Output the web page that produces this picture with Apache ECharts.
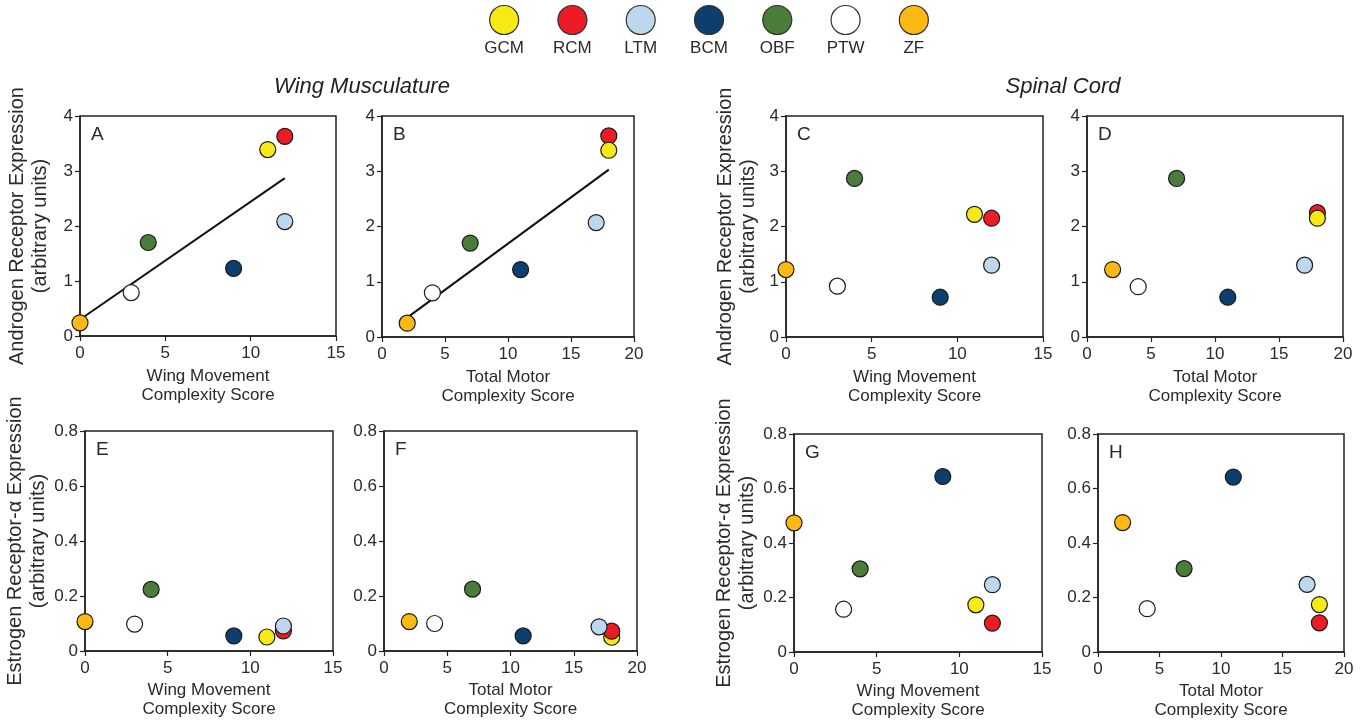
<!DOCTYPE html>
<html>
<head>
<meta charset="utf-8">
<title>Receptor expression vs motor complexity</title>
<script src="https://cdn.jsdelivr.net/npm/echarts@6/dist/echarts.min.js"></script>
<style>
html, body { margin: 0; padding: 0; background: #fff; }
#main { width: 1368px; height: 721px; }
</style>
</head>
<body>
<div id="main"></div>
<script>
var species = ['GCM', 'RCM', 'LTM', 'BCM', 'OBF', 'PTW', 'ZF'];
var speciesColors = ['#f5ea14', '#ec1c24', '#bdd7ee', '#0c3f6d', '#4b7d3a', '#ffffff', '#fdb913'];
var wingScore = [11, 12, 12, 9, 4, 3, 0];
var motorScore = [18, 18, 17, 11, 7, 4, 2];
// androgen receptor: wing muscle (A, B), spinal cord (C, D)
var arMuscleA = [3.39, 3.63, 2.08, 1.23, 1.70, 0.79, 0.24];
var arMuscleB = [3.38, 3.64, 2.07, 1.22, 1.70, 0.80, 0.25];
var arSpinalC = [2.22, 2.15, 1.30, 0.72, 2.87, 0.92, 1.22];
var arSpinalD = [2.15, 2.25, 1.30, 0.72, 2.87, 0.91, 1.22];
// estrogen receptor alpha: wing muscle (E, F), spinal cord (G, H)
var erMuscleE = [0.051, 0.073, 0.091, 0.055, 0.224, 0.098, 0.107];
var erMuscleF = [0.050, 0.072, 0.088, 0.055, 0.225, 0.100, 0.107];
var erSpinalG = [0.173, 0.106, 0.247, 0.644, 0.305, 0.157, 0.474];
var erSpinalH = [0.174, 0.107, 0.248, 0.642, 0.306, 0.159, 0.475];
// regression lines in A and B (end points)
var fitA = [[0, 0.30], [12, 2.87]];
var fitB = [[2, 0.35], [18, 3.03]];
var wingTicks = [0, 5, 10, 15];
var motorTicks = [0, 5, 10, 15, 20];
var arTicks = [0, 1, 2, 3, 4];
var erTicks = [0, 0.2, 0.4, 0.6, 0.8];

var FONT = 'Liberation Sans, Arial, sans-serif';
var INK = '#222';
var wingName = 'Wing Movement\nComplexity Score';
var motorName = 'Total Motor\nComplexity Score';
var arName = 'Androgen Receptor Expression\n(arbitrary units)';
var erName = 'Estrogen Receptor-\u03b1 Expression\n(arbitrary units)';

var panels = [
    {letter: 'A', xs: wingScore, ys: arMuscleA, fit: fitA, xt: wingTicks, yt: arTicks, xName: wingName, yName: arName, yGap: 28, left: 80, top: 116, width: 256, height: 220},
    {letter: 'B', xs: motorScore, ys: arMuscleB, fit: fitB, xt: motorTicks, yt: arTicks, xName: motorName, left: 382, top: 116, width: 252, height: 221},
    {letter: 'C', xs: wingScore, ys: arSpinalC, xt: wingTicks, yt: arTicks, xName: wingName, yName: arName, yGap: 26, left: 786, top: 116, width: 257, height: 221},
    {letter: 'D', xs: motorScore, ys: arSpinalD, xt: motorTicks, yt: arTicks, xName: motorName, left: 1087, top: 116, width: 256, height: 221},
    {letter: 'E', xs: wingScore, ys: erMuscleE, xt: wingTicks, yt: erTicks, xName: wingName, yName: erName, yGap: 33, left: 85, top: 431, width: 248, height: 220},
    {letter: 'F', xs: motorScore, ys: erMuscleF, xt: motorTicks, yt: erTicks, xName: motorName, order: [0, 1, 2, 3, 4, 5, 6], left: 384, top: 431, width: 253, height: 220},
    {letter: 'G', xs: wingScore, ys: erSpinalG, xt: wingTicks, yt: erTicks, xName: wingName, yName: erName, yGap: 33, left: 794, top: 434, width: 248, height: 219},
    {letter: 'H', xs: motorScore, ys: erSpinalH, xt: motorTicks, yt: erTicks, xName: motorName, left: 1098, top: 434, width: 246, height: 220}
];

var grid = [], xAxis = [], yAxis = [], series = [];
var titles = [
    {text: 'Wing Musculature', left: 362, top: 76, textAlign: 'center', padding: 0,
     textStyle: {fontFamily: FONT, fontSize: 22, fontStyle: 'italic', fontWeight: 'normal', color: INK}},
    {text: 'Spinal Cord', left: 1063, top: 76, textAlign: 'center', padding: 0,
     textStyle: {fontFamily: FONT, fontSize: 22, fontStyle: 'italic', fontWeight: 'normal', color: INK}}
];

for (var i = 0; i < panels.length; i++) {
    var p = panels[i];
    grid.push({left: p.left, top: p.top, width: p.width, height: p.height,
        show: true, borderColor: INK, borderWidth: 1.5, backgroundColor: '#fff'});
    xAxis.push({
        gridIndex: i, type: 'value',
        min: p.xt[0], max: p.xt[p.xt.length - 1], interval: p.xt[1] - p.xt[0],
        splitLine: {show: false},
        axisLine: {onZero: false, lineStyle: {color: INK, width: 1.5}},
        axisTick: {length: 5, lineStyle: {color: INK, width: 1.2}},
        axisLabel: {fontFamily: FONT, fontSize: 17, color: '#2a2a2a', margin: 9},
        name: p.xName, nameLocation: 'middle', nameGap: i < 4 ? 31 : 30,
        nameTextStyle: {fontFamily: FONT, fontSize: 17, color: '#2a2a2a', lineHeight: 19}
    });
    yAxis.push({
        gridIndex: i, type: 'value',
        min: p.yt[0], max: p.yt[p.yt.length - 1], interval: p.yt[1] - p.yt[0],
        splitLine: {show: false},
        axisLine: {onZero: false, lineStyle: {color: INK, width: 1.5}},
        axisTick: {length: 5, lineStyle: {color: INK, width: 1.2}},
        axisLabel: {fontFamily: FONT, fontSize: 17, color: '#2a2a2a', margin: 7},
        name: p.yName || '', nameLocation: 'middle', nameRotate: 90, nameGap: p.yGap || 30,
        nameTextStyle: {fontFamily: FONT, fontSize: 20, color: '#2a2a2a', lineHeight: 23}
    });
    titles.push({text: p.letter, left: p.left + 11, top: p.top + 9, padding: 0,
        textStyle: {fontFamily: FONT, fontSize: 19, fontWeight: 'normal', color: '#2a2a2a'}});

    if (p.fit) {
        series.push({type: 'line', xAxisIndex: i, yAxisIndex: i, data: p.fit,
            showSymbol: false, symbol: 'none', silent: true,
            lineStyle: {color: '#111', width: 2}, z: 2});
    }
    var order = p.order || [1, 0, 2, 3, 4, 5, 6];
    var pts = [];
    for (var k = 0; k < order.length; k++) {
        var s = order[k];
        pts.push({name: species[s], value: [p.xs[s], p.ys[s]],
            itemStyle: {color: speciesColors[s]}});
    }
    series.push({type: 'scatter', xAxisIndex: i, yAxisIndex: i, data: pts,
        symbolSize: 16, clip: false, z: 3,
        itemStyle: {borderColor: '#1a1a1a', borderWidth: 1.2, opacity: 1}});
}

// key across the top: one circle per species with its code below
grid.push({left: 470, top: 6, width: 478, height: 28});
xAxis.push({gridIndex: 8, type: 'category', data: species,
    axisLine: {show: false}, axisTick: {show: false}, splitLine: {show: false},
    axisLabel: {fontFamily: FONT, fontSize: 17, color: '#2a2a2a', margin: 6}});
yAxis.push({gridIndex: 8, type: 'value', min: 0, max: 1, show: false});
series.push({type: 'scatter', xAxisIndex: 8, yAxisIndex: 8, symbolSize: 29,
    data: species.map(function (s, j) {
        return {value: [s, 0.5], itemStyle: {color: speciesColors[j]}};
    }),
    itemStyle: {borderColor: '#333', borderWidth: 1.2, opacity: 1}});

var myChart = echarts.init(document.getElementById('main'));
myChart.setOption({
    animation: false,
    backgroundColor: '#fff',
    title: titles,
    grid: grid,
    xAxis: xAxis,
    yAxis: yAxis,
    series: series
});
</script>
</body>
</html>
